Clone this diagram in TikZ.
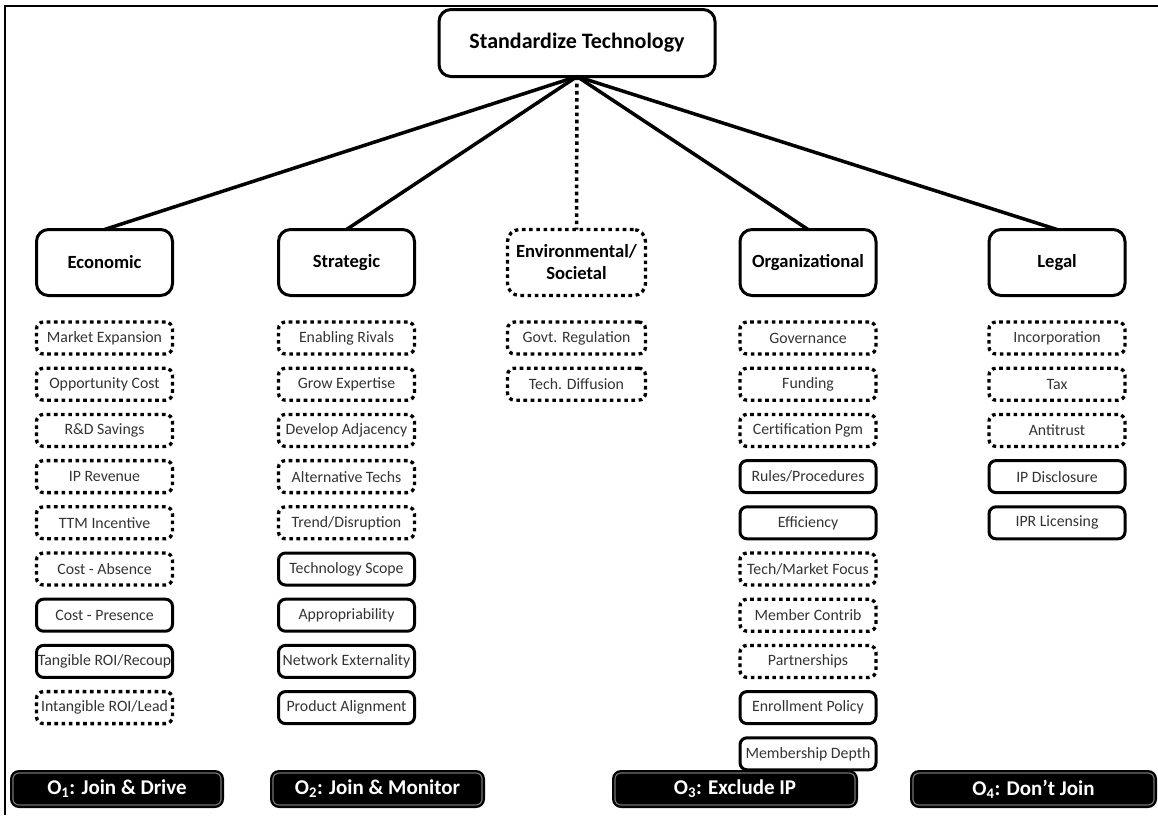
\documentclass[tikz,border=0pt]{standalone}
\usepackage{fontspec}
\setmainfont{Carlito}
\usetikzlibrary{calc}

\tikzset{
	solidbox/.style={draw, line width=3pt, rounded corners=7pt, minimum width=136pt, minimum height=32pt, inner sep=0pt, outer sep=0pt, text=black!80, font=\fontsize{15.8}{18}\selectfont},
	dotbox/.style={solidbox, line width=3.3pt, dash pattern=on 3.6pt off 3.6pt},
	catbox/.style={draw, line width=3pt, rounded corners=12pt, minimum width=136pt, minimum height=66pt, inner sep=0pt, outer sep=0pt, align=center, font=\bfseries\fontsize{18.6}{22}\selectfont},
	catdot/.style={catbox, line width=3.3pt, dash pattern=on 3.6pt off 3.6pt},
	link/.style={line width=3.5pt},
	linkdot/.style={line width=3.5pt, dash pattern=on 3.6pt off 3.6pt},
	optbar/.style={fill=black, rounded corners=9pt, minimum height=38pt, inner sep=0pt, outer sep=0pt, text=white, font=\bfseries\fontsize{21}{24}\selectfont,
		path picture={\draw[black!55, line width=1.2pt, rounded corners=6pt] ($(path picture bounding box.north west)+(3pt,-3pt)$) rectangle ($(path picture bounding box.south east)+(-3pt,3pt)$);}},
}

\begin{document}
\begin{tikzpicture}[x=1pt, y=-1pt]
		%%%%% START %%%%%
		\useasboundingbox (0,0) rectangle (1158,815);
		
		\draw[line width=2pt] (5,815) -- (5,6) -- (1158,6);
		
		\node[catbox, minimum width=276pt, minimum height=67pt, font=\bfseries\fontsize{22}{26}\selectfont] (std) at (577,43) {Standardize Technology};
		
		\node[catbox] (eco) at (104.5,262.5) {Economic};
		\node[catbox] (strat) at (346.5,262.5) {Strategic};
		\node[catdot, minimum width=138pt] (env) at (576.5,262.5) {Environmental/\\Societal};
		\node[catbox] (org) at (808,262.5) {Organizational};
		\node[catbox] (legal) at (1057,262.5) {Legal};
		
		\draw[link] (std.south) -- (eco.north);
		\draw[link] (std.south) -- (strat.north);
		\draw[linkdot] (std.south) -- (env.north);
		\draw[link] (std.south) -- (org.north);
		\draw[link] (std.south) -- (legal.north);
		
		%%%%% FACTORS %%%%%
		\foreach \sty/\lbl [count=\i from 0] in {dotbox/Market Expansion, dotbox/Opportunity Cost, dotbox/R\&D Savings, dotbox/IP Revenue, dotbox/TTM Incentive, dotbox/Cost - Absence, solidbox/Cost - Presence, solidbox/{Tangible ROI/Recoup}, dotbox/{Intangible ROI/Lead}}
			\node[\sty] (eco\i) at (104.5,338+46.2*\i) {\lbl};
		
		\foreach \sty/\lbl [count=\i from 0] in {dotbox/Enabling Rivals, dotbox/Grow Expertise, dotbox/Develop Adjacency, dotbox/Alternative Techs, dotbox/{Trend/Disruption}, solidbox/Technology Scope, solidbox/Appropriability, solidbox/Network Externality, solidbox/Product Alignment}
			\node[\sty] (strat\i) at (346.5,338+46.2*\i) {\lbl};
		
		\foreach \sty/\lbl [count=\i from 0] in {dotbox/Govt. Regulation, dotbox/Tech. Diffusion}
			\node[\sty, minimum width=138pt] (env\i) at (576.5,338+46.2*\i) {\lbl};
		
		\foreach \sty/\lbl [count=\i from 0] in {dotbox/Governance, dotbox/Funding, dotbox/Certification Pgm, solidbox/{Rules/Procedures}, solidbox/Efficiency, dotbox/{Tech/Market Focus}, dotbox/Member Contrib, dotbox/Partnerships, solidbox/Enrollment Policy, solidbox/Membership Depth}
			\node[\sty] (org\i) at (808,338+46.2*\i) {\lbl};
		
		\foreach \sty/\lbl [count=\i from 0] in {dotbox/Incorporation, dotbox/Tax, dotbox/Antitrust, solidbox/IP Disclosure, solidbox/IPR Licensing}
			\node[\sty] (legal\i) at (1057,338+46.2*\i) {\lbl};
		
		%%%%% OPTIONS %%%%%
		\node[optbar, minimum width=214pt] (opt1) at (117,789) {O\textsubscript{1}: Join \& Drive};
		\node[optbar, minimum width=215pt] (opt2) at (377.5,789) {O\textsubscript{2}: Join \& Monitor};
		\node[optbar, minimum width=246pt] (opt3) at (735,789) {O\textsubscript{3}: Exclude IP};
		\node[optbar, minimum width=247pt] (opt4) at (1033.5,789) {O\textsubscript{4}: Don’t Join};
		
		%%%%% END %%%%%
	\end{tikzpicture}
\end{document}
